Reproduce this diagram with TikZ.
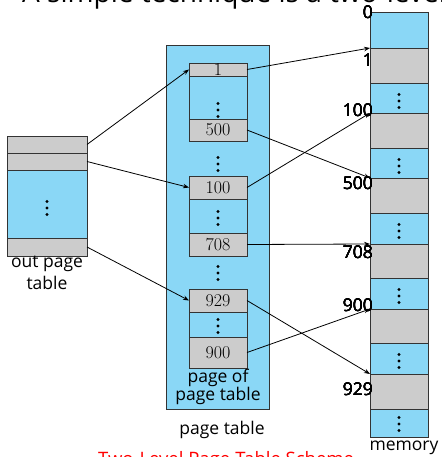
\documentclass[tikz,border=0pt]{standalone}
\usepackage{fontspec}
\usetikzlibrary{arrows.meta}
\newfontfamily\uifont{Open Sans}
\definecolor{cellblue}{HTML}{8AD7F6}
\definecolor{cellgray}{HTML}{CCCCCC}
\tikzset{
  cell/.style={draw=black!80, line width=0.9pt, inner sep=0pt, outer sep=0pt},
  gcell/.style={cell, fill=cellgray},
  bcell/.style={cell, fill=cellblue},
  lbl/.style={font=\uifont\fontsize{17.5}{19}\selectfont, inner sep=0pt},
  ptr/.style={-{Stealth[length=6pt,width=4.5pt]}, line width=0.8pt},
}
\newcommand{\nm}{\fontsize{18}{18}\selectfont}
% style, name, x1, x2, y1, y2, text
\newcommand{\mcell}[7]{%
  \node[#1, minimum width={(#4-#3)*1pt}, minimum height={(#6-#5)*1pt}] (#2) at ({(#3+#4)/2},{(#5+#6)/2}) {#7};}
\newcommand{\vdts}[2]{\foreach \k in {-1,0,1} \fill (#1,#2+\k*6.5) circle (1.7);}
\begin{document}
\begin{tikzpicture}[x=1pt,y=-1pt]
\useasboundingbox (0,0) rectangle (441,457);
\clip (0,0) rectangle (441,457);

% heading, cut off by the frame
\node[anchor=base west, inner sep=0pt, font=\uifont\fontsize{28}{32}\selectfont] (title) at (22,3) {A simple technique is a two-level page table};

% outer page table
\mcell{gcell}{o1}{7}{87}{136}{153}{}
\mcell{gcell}{o2}{7}{87}{153}{170}{}
\mcell{bcell}{o3}{7}{87}{170}{238}{}
\mcell{gcell}{o4}{7}{87}{238}{256}{}
\vdts{47}{208}
\node[lbl] (olbl1) at (47,264) {out page};
\node[lbl] (olbl2) at (47,283) {table};

% page table
\mcell{bcell}{pt}{166}{269}{45}{409}{}
\mcell{gcell}{p1}{189}{247}{63}{76}{\nm 1}
\mcell{bcell}{p1b}{189}{247}{76}{119}{}
\mcell{gcell}{p500}{189}{247}{119}{141}{\nm 500}
\vdts{218}{110}
\vdts{218}{164}
\mcell{gcell}{p100}{189}{247}{176}{199}{\nm 100}
\mcell{bcell}{p100b}{189}{247}{199}{233}{}
\mcell{gcell}{p708}{189}{247}{233}{256}{\nm 708}
\vdts{218}{218}
\vdts{218}{273}
\mcell{gcell}{p929}{189}{247}{289}{312}{\nm 929}
\mcell{bcell}{p929b}{189}{247}{312}{337}{}
\mcell{gcell}{p900}{189}{247}{337}{368}{\nm 900}
\vdts{218}{326}
\node[lbl] (pplbl1) at (218,378) {page of};
\node[lbl] (pplbl2) at (218,396) {page table};
\node[lbl] (ptlbl) at (222,430) {page table};

% memory
\mcell{bcell}{mb0}{370}{428}{12}{48}{}
\mcell{gcell}{m1}{370}{428}{48}{83}{}
\mcell{bcell}{mb1}{370}{428}{83}{113}{}
\mcell{gcell}{m100}{370}{428}{113}{148}{}
\mcell{bcell}{mb2}{370}{428}{148}{178}{}
\mcell{gcell}{m500}{370}{428}{178}{213}{}
\mcell{bcell}{mb3}{370}{428}{213}{244}{}
\mcell{gcell}{m708}{370}{428}{244}{278}{}
\mcell{bcell}{mb4}{370}{428}{278}{309}{}
\mcell{gcell}{m900}{370}{428}{309}{343}{}
\mcell{bcell}{mb5}{370}{428}{343}{374}{}
\mcell{gcell}{m929}{370}{428}{374}{409}{}
\mcell{bcell}{mb6}{370}{428}{409}{437}{}
\foreach \yy in {101,166,231,296,361,424} \vdts{399}{\yy}
\foreach \tx/\yy in {0/12,1/60,100/110,500/183,708/252,900/305,929/389}
  \node[lbl, anchor=east] at (373,\yy) {\tx};
\node[lbl] (mlbl) at (404,448) {memory};

% pointers
\draw[ptr] (o1.east) -- (p1.west);
\draw[ptr] (o2.east) -- (p100.west);
\draw[ptr] (o4.east) -- (p929.west);
\draw[ptr] (p1.east) -- (m1.north west);
\draw[ptr] (p500.east) -- (m500.north west);
\draw[ptr] (p100.east) -- (m100.north west);
\draw[ptr] (p708.east) -- (m708.north west);
\draw[ptr] (p929.east) -- (m929.north west);
\draw[ptr] (p900.east) -- (m900.north west);

% caption, cut off by the frame
\node[anchor=north west, inner sep=0pt, text=red, font=\uifont\fontsize{18.5}{20}\selectfont] (cap) at (98,451) {Two-Level Page-Table Scheme};
\end{tikzpicture}
\end{document}
